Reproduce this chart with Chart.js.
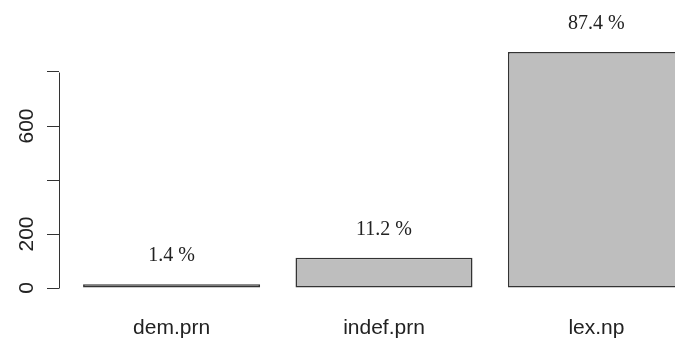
<!DOCTYPE html>
<html>
<head>
<meta charset="utf-8">
<script src="https://cdn.jsdelivr.net/npm/chart.js@4"></script>
<style>
  html, body { margin: 0; padding: 0; background: #fff; overflow: hidden; }
  #wrap { width: 675px; height: 342px; overflow: hidden; position: relative; }
  canvas { display: block; }
</style>
</head>
<body>
<div id="wrap"><canvas id="c" width="720" height="342"></canvas></div>
<script>
// Counts per noun-phrase type
const categories = ['dem.prn', 'indef.prn', 'lex.np'];
const counts = [14, 112, 874];
// Y axis ticks; some labels are left blank like base R does when they crowd
const yTickValues = [0, 200, 400, 600, 800];
const yTickLabels = ['0', '200', '', '600', ''];

// barplot-style layout: bar width 1, gap 0.2, 4% padding on the x range
const SPACE = 0.2;
const centres = categories.map((_, i) => SPACE + i * (1 + SPACE) + 0.5);
const xLo = SPACE, xHi = categories.length * (1 + SPACE);
const xPad = (xHi - xLo) * 0.04;

const total = counts.reduce((a, b) => a + b, 0);
const pctLabels = counts.map(c => (c / total * 100).toFixed(1) + ' %');

const INK = '#333333';

const rStyle = {
  id: 'rStyle',
  afterDatasetsDraw(chart) {
    const ctx = chart.ctx;
    const ys = chart.scales.y;
    const x0 = Math.round(chart.chartArea.left - 0.5) + 0.5;
    ctx.save();
    // axis line spans first to last tick only
    ctx.strokeStyle = INK;
    ctx.lineWidth = 1;
    ctx.beginPath();
    ctx.moveTo(x0, Math.round(ys.getPixelForValue(yTickValues[0])) + 0.5);
    ctx.lineTo(x0, Math.round(ys.getPixelForValue(yTickValues[yTickValues.length - 1])) + 0.5);
    ctx.stroke();

    // rotated tick labels
    ctx.fillStyle = '#222';
    ctx.font = '21px "Liberation Sans", Arial, sans-serif';
    ctx.textAlign = 'center';
    ctx.textBaseline = 'alphabetic';
    yTickValues.forEach((v, i) => {
      if (!yTickLabels[i]) return;
      const py = ys.getPixelForValue(v);
      ctx.save();
      ctx.translate(33, py);
      ctx.rotate(-Math.PI / 2);
      ctx.fillText(yTickLabels[i], 0, 0);
      ctx.restore();
    });

    // percentage above each bar
    ctx.font = '20px "Liberation Serif", "Times New Roman", serif';
    ctx.textBaseline = 'middle';
    const meta = chart.getDatasetMeta(0);
    meta.data.forEach((bar, i) => {
      ctx.fillText(pctLabels[i], bar.x, bar.y - 28);
    });
    ctx.restore();
  }
};

new Chart(document.getElementById('c'), {
  type: 'bar',
  data: {
    datasets: [{
      data: counts.map((c, i) => ({ x: centres[i], y: c })),
      backgroundColor: '#bebebe',
      borderColor: INK,
      borderWidth: 1.5,
      borderSkipped: false,
      barPercentage: 1 / (1 + SPACE),
      categoryPercentage: 1
    }]
  },
  options: {
    responsive: false,
    animation: false,
    events: [],
    layout: { padding: { left: 47, right: 11, top: 18, bottom: 0 } },
    plugins: { legend: { display: false }, tooltip: { enabled: false } },
    scales: {
      x: {
        type: 'linear',
        offset: false,
        bounds: 'data',
        min: xLo - xPad,
        max: xHi + xPad,
        afterBuildTicks: s => { s.ticks = centres.map(v => ({ value: v })); },
        afterFit: s => { s.height = 54; },
        grid: { display: false, offset: false },
        border: { display: false },
        ticks: {
          autoSkip: false,
          minRotation: 0,
          maxRotation: 0,
          padding: 20,
          color: '#222',
          font: { family: '"Liberation Sans", Arial, sans-serif', size: 21 },
          callback: (v, i) => categories[i]
        }
      },
      y: {
        min: 0,
        max: 1000,
        afterBuildTicks: s => { s.ticks = yTickValues.map(v => ({ value: v })); },
        grid: { drawOnChartArea: false, drawTicks: true, tickLength: 12, color: INK, lineWidth: 1 },
        border: { display: false },
        ticks: { display: false }
      }
    }
  },
  plugins: [rStyle]
});
</script>
</body>
</html>
